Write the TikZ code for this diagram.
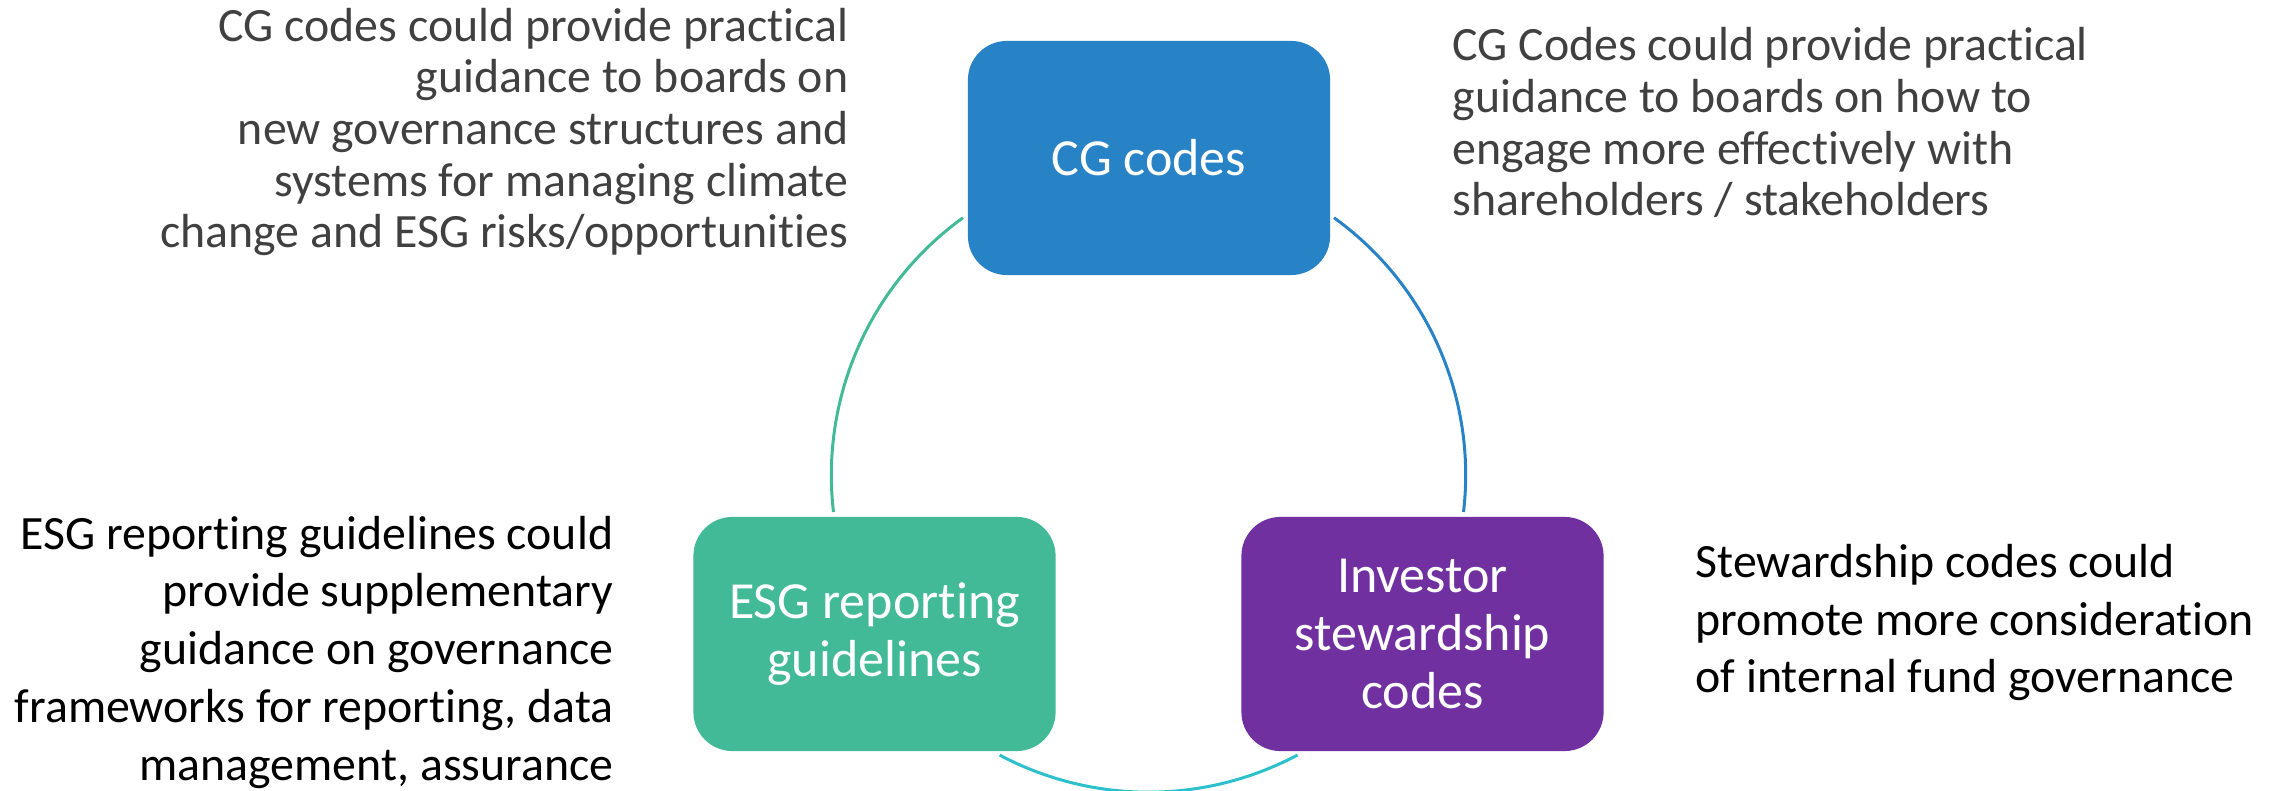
\documentclass[tikz,border=0pt]{standalone}
\usepackage{fontspec}
\setmainfont{Carlito}[Ligatures=NoCommon]
\usetikzlibrary{positioning}

\definecolor{cgblue}{RGB}{40,130,198}
\definecolor{esggreen}{RGB}{67,186,151}
\definecolor{invpurple}{RGB}{112,48,160}
\definecolor{ringcyan}{RGB}{43,192,204}
\definecolor{notegray}{RGB}{64,64,64}

\begin{document}
\begin{tikzpicture}[x=0.01cm,y=0.01cm,
    box/.style={rounded corners=0.39cm, minimum width=3.62cm, minimum height=2.34cm,
      text=white, align=center, font=\fontsize{14.8}{16.6}\selectfont},
    note/.style={inner sep=0pt, font=\fontsize{13.6}{14.7}\selectfont},
    ring/.style={line width=0.85pt}]
  \useasboundingbox (0,0) rectangle (2285,791);
  \coordinate (c) at (1148.5,316);

  % the three code boxes
  \node[box, fill=cgblue] (cg) at (1149,633) {CG codes};
  \node[box, fill=esggreen] (esg) at (874.5,157) {ESG reporting\\guidelines};
  \node[box, fill=invpurple] (inv) at (1422.5,157) {Investor\\stewardship\\codes};

  % ring segments between the boxes
  \draw[ring, esggreen] (c) ++(125.8:3.17cm) arc[start angle=125.8, end angle=186.7, radius=3.17cm];
  \draw[ring, cgblue] (c) ++(54.2:3.17cm) arc[start angle=54.2, end angle=-6.7, radius=3.17cm];
  \draw[ring, ringcyan] (c) ++(242:3.17cm) arc[start angle=242, end angle=298, radius=3.17cm];

  % side notes
  \node[note, text=notegray, align=right, anchor=base east] (cgnote) at (849,543)
    {CG codes could provide practical\\guidance to boards on\\new governance structures and\\systems for managing climate\\change and ESG risks/opportunities};
  \node[note, text=notegray, align=left, anchor=base west] (engnote) at (1452,575)
    {CG Codes could provide practical\\guidance to boards on how to\\engage more effectively with\\shareholders / stakeholders};
  \node[note, font=\fontsize{13.6}{16.4}\selectfont, align=right, anchor=base east] (esgnote) at (614,11)
    {ESG reporting guidelines could\\provide supplementary\\guidance on governance\\frameworks for reporting, data\\management, assurance};
  \node[note, font=\fontsize{13.6}{16.4}\selectfont, align=left, anchor=base west] (invnote) at (1695,98)
    {Stewardship codes could\\promote more consideration\\of internal fund governance};
\end{tikzpicture}
\end{document}
